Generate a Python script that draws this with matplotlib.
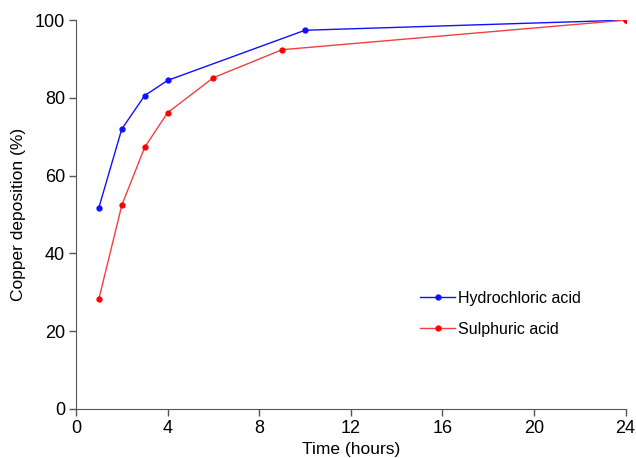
import matplotlib.pyplot as plt

plt.rcParams['font.family'] = ['Liberation Sans', 'DejaVu Sans']

hcl_time = [1, 2, 3, 4, 10, 24]
hcl_cu = [51.8, 72.0, 80.6, 84.5, 97.4, 100.0]
h2so4_time = [1, 2, 3, 4, 6, 9, 24]
h2so4_cu = [28.3, 52.4, 67.3, 76.2, 85.2, 92.4, 100.0]

fig = plt.figure(figsize=(6.36, 4.58), dpi=100)
ax = fig.add_axes([0.1195, 0.107, 0.864, 0.849])

ax.plot(hcl_time, hcl_cu, color='#1010ff', lw=1, marker='o', ms=3.5,
        label='Hydrochloric acid')
ax.plot(h2so4_time, h2so4_cu, color='#f04040', lw=1, marker='o', ms=3.5,
        mfc='#ff0000', mec='#ff0000', label='Sulphuric acid')

ax.set_xlim(0, 24)
ax.set_ylim(0, 100)
ax.set_xticks(range(0, 25, 4))
ax.set_yticks(range(0, 101, 20))
ax.spines['top'].set_visible(False)
ax.spines['right'].set_visible(False)
for s in ('left', 'bottom'):
    ax.spines[s].set_color('#555555')
ax.tick_params(direction='out', length=5, width=1, color='#555555',
               labelsize=13, pad=3)
ax.set_xlabel('Time (hours)', fontsize=12.5, labelpad=-3)
ax.xaxis.set_label_coords(0.5, -0.085)
ax.set_ylabel('Copper deposition (%)', fontsize=12.5, labelpad=6)

ax.legend(loc='center left', bbox_to_anchor=(0.6, 0.245), frameon=False,
          fontsize=11.5, handlelength=2.2, handletextpad=0.2,
          labelspacing=1.0)

fig.savefig('out.png', dpi=100)
